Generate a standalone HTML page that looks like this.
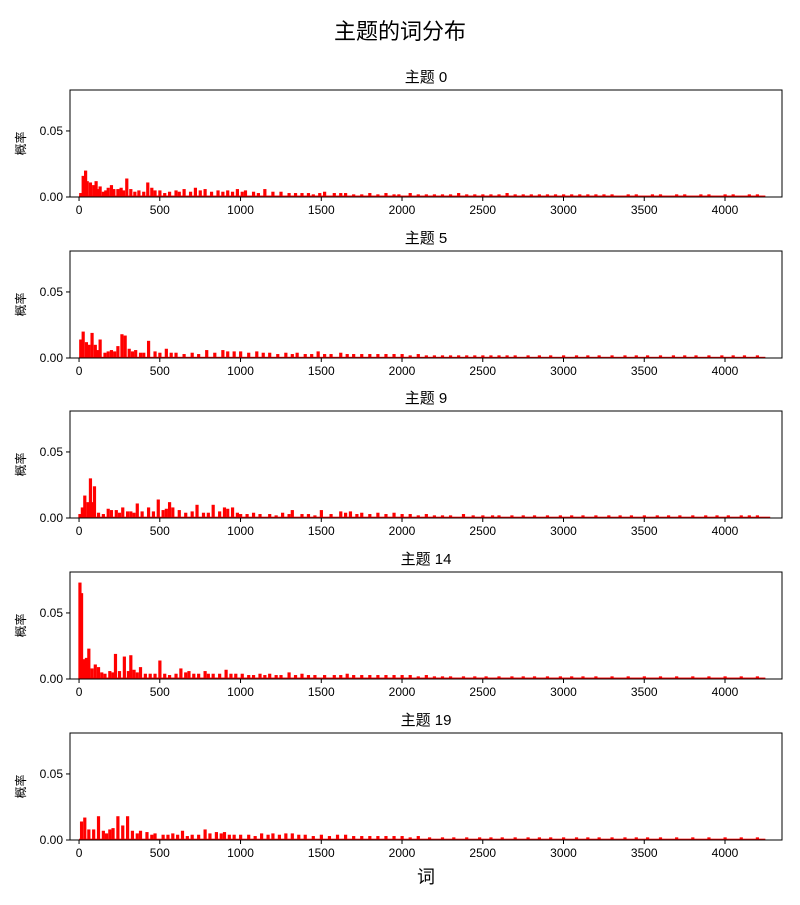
<!DOCTYPE html>
<html><head><meta charset="utf-8"><style>
body{margin:0;background:#fff;}
svg text{font-family:"Liberation Sans","Noto Sans CJK SC","WenQuanYi Zen Hei",sans-serif;}
</style></head><body>
<svg id="chart" width="800" height="900" xmlns="http://www.w3.org/2000/svg">
<text x="400" y="39" text-anchor="middle" font-size="22">主题的词分布</text>
<text x="426" y="883" text-anchor="middle" font-size="18">词</text>
</svg>
<script>
const topicNames = ["主题 0","主题 5","主题 9","主题 14","主题 19"];
const xTicks = [0,500,1000,1500,2000,2500,3000,3500,4000];
const yTicks = [0,0.05];
const yTickLabels = ["0.00","0.05"];
const floorLevels = [0.0011,0.0009,0.001,0.0011,0.001];
const tailEnd = [4250,4250,4280,4250,4250];
const spikes0 = [[10,0.003],[25,0.016],[40,0.02],[50,0.012],[70,0.011],[90,0.009],[105,0.012],[120,0.006],[130,0.008],[150,0.004],[165,0.005],[180,0.007],[200,0.009],[215,0.006],[240,0.006],[260,0.007],[275,0.005],[295,0.014],[320,0.006],[345,0.004],[370,0.005],[400,0.004],[425,0.011],[450,0.007],[470,0.005],[500,0.005],[530,0.003],[560,0.004],[600,0.005],[620,0.004],[650,0.006],[690,0.004],[720,0.007],[750,0.005],[780,0.006],[820,0.004],[860,0.005],[890,0.004],[920,0.005],[950,0.004],[980,0.006],[1010,0.004],[1030,0.005],[1080,0.004],[1110,0.003],[1150,0.006],[1200,0.004],[1250,0.004],[1300,0.003],[1340,0.003],[1380,0.003],[1420,0.003],[1450,0.002],[1490,0.003],[1520,0.004],[1580,0.003],[1620,0.003],[1650,0.003],[1700,0.002],[1750,0.002],[1800,0.003],[1850,0.002],[1900,0.003],[1950,0.002],[1980,0.002],[2050,0.003],[2100,0.002],[2150,0.002],[2200,0.002],[2250,0.002],[2300,0.002],[2350,0.003],[2400,0.002],[2450,0.002],[2500,0.002],[2550,0.002],[2600,0.002],[2650,0.003],[2700,0.002],[2750,0.002],[2800,0.002],[2850,0.002],[2900,0.002],[2950,0.002],[3000,0.002],[3050,0.002],[3100,0.002],[3150,0.002],[3200,0.002],[3250,0.002],[3300,0.002],[3400,0.002],[3450,0.002],[3550,0.002],[3600,0.002],[3700,0.002],[3750,0.002],[3850,0.002],[3900,0.002],[4000,0.002],[4050,0.002],[4150,0.002],[4200,0.002]];
const spikes5 = [[10,0.014],[25,0.02],[45,0.012],[60,0.01],[80,0.019],[100,0.01],[115,0.006],[130,0.014],[160,0.004],[180,0.005],[200,0.006],[220,0.005],[240,0.009],[265,0.018],[285,0.017],[310,0.007],[330,0.005],[350,0.006],[380,0.004],[400,0.004],[430,0.013],[470,0.005],[500,0.004],[540,0.007],[570,0.004],[600,0.004],[650,0.003],[700,0.004],[740,0.003],[790,0.006],[840,0.004],[890,0.006],[920,0.005],[960,0.005],[1000,0.005],[1050,0.004],[1100,0.005],[1140,0.004],[1180,0.004],[1230,0.003],[1280,0.004],[1320,0.003],[1350,0.004],[1400,0.003],[1440,0.003],[1480,0.005],[1520,0.003],[1560,0.003],[1620,0.004],[1660,0.003],[1700,0.003],[1750,0.003],[1800,0.003],[1850,0.003],[1900,0.003],[1950,0.003],[2000,0.003],[2050,0.002],[2100,0.003],[2150,0.002],[2200,0.002],[2250,0.002],[2300,0.002],[2350,0.002],[2400,0.002],[2450,0.002],[2500,0.002],[2550,0.002],[2600,0.002],[2650,0.002],[2700,0.002],[2780,0.002],[2850,0.002],[2920,0.002],[3000,0.002],[3080,0.002],[3150,0.002],[3220,0.002],[3300,0.002],[3380,0.002],[3450,0.002],[3520,0.002],[3600,0.002],[3680,0.002],[3750,0.002],[3820,0.002],[3900,0.002],[3980,0.002],[4050,0.002],[4120,0.002],[4200,0.002]];
const spikes9 = [[5,0.003],[20,0.008],[35,0.017],[55,0.012],[70,0.03],[80,0.012],[95,0.024],[120,0.004],[150,0.003],[180,0.007],[200,0.006],[230,0.006],[250,0.004],[270,0.008],[300,0.005],[320,0.005],[340,0.004],[360,0.011],[390,0.005],[430,0.008],[460,0.005],[490,0.014],[520,0.006],[540,0.007],[560,0.012],[580,0.008],[620,0.006],[660,0.004],[700,0.005],[730,0.01],[770,0.004],[800,0.004],[830,0.01],[870,0.005],[900,0.008],[920,0.007],[950,0.008],[980,0.004],[1000,0.003],[1040,0.003],[1080,0.004],[1120,0.003],[1180,0.003],[1220,0.002],[1260,0.004],[1300,0.003],[1320,0.006],[1380,0.003],[1420,0.003],[1460,0.002],[1500,0.006],[1560,0.003],[1620,0.005],[1650,0.004],[1680,0.005],[1720,0.003],[1750,0.004],[1800,0.003],[1850,0.004],[1900,0.003],[1950,0.004],[2000,0.003],[2050,0.003],[2100,0.002],[2150,0.003],[2200,0.002],[2250,0.002],[2300,0.002],[2380,0.003],[2440,0.002],[2500,0.002],[2560,0.002],[2600,0.002],[2680,0.002],[2750,0.002],[2820,0.002],[2900,0.002],[2980,0.002],[3050,0.002],[3120,0.002],[3200,0.002],[3280,0.002],[3350,0.002],[3420,0.002],[3500,0.002],[3580,0.002],[3650,0.002],[3720,0.002],[3800,0.002],[3880,0.002],[3950,0.002],[4020,0.002],[4100,0.002],[4150,0.002],[4200,0.002]];
const spikes14 = [[5,0.073],[15,0.065],[30,0.015],[45,0.016],[60,0.023],[80,0.008],[100,0.011],[120,0.009],[140,0.005],[160,0.004],[190,0.006],[210,0.005],[225,0.019],[250,0.006],[280,0.017],[305,0.006],[320,0.018],[340,0.007],[360,0.005],[380,0.009],[410,0.004],[440,0.004],[470,0.004],[500,0.014],[530,0.004],[560,0.003],[600,0.004],[630,0.008],[660,0.005],[680,0.006],[710,0.004],[740,0.004],[780,0.006],[800,0.004],[830,0.004],[870,0.004],[910,0.007],[940,0.004],[970,0.004],[1010,0.004],[1050,0.003],[1080,0.003],[1120,0.004],[1150,0.003],[1180,0.004],[1220,0.003],[1250,0.003],[1300,0.005],[1340,0.003],[1380,0.004],[1420,0.003],[1460,0.003],[1520,0.003],[1580,0.003],[1620,0.003],[1660,0.004],[1700,0.003],[1750,0.003],[1800,0.003],[1850,0.003],[1900,0.003],[1950,0.003],[2000,0.003],[2050,0.003],[2100,0.002],[2150,0.003],[2200,0.002],[2250,0.002],[2300,0.002],[2380,0.002],[2450,0.002],[2520,0.002],[2600,0.002],[2680,0.002],[2750,0.002],[2820,0.002],[2900,0.002],[2980,0.002],[3050,0.002],[3120,0.002],[3200,0.002],[3300,0.002],[3400,0.002],[3500,0.002],[3600,0.002],[3700,0.002],[3800,0.002],[3900,0.002],[4000,0.002],[4100,0.002],[4200,0.002]];
const spikes19 = [[15,0.014],[35,0.017],[60,0.008],[90,0.008],[120,0.018],[150,0.007],[170,0.005],[190,0.008],[210,0.009],[240,0.018],[270,0.011],[300,0.018],[330,0.007],[360,0.005],[380,0.007],[420,0.006],[450,0.004],[470,0.005],[520,0.004],[550,0.004],[580,0.005],[610,0.004],[640,0.007],[670,0.003],[700,0.004],[740,0.004],[780,0.008],[810,0.005],[850,0.006],[880,0.005],[900,0.006],[930,0.004],[960,0.004],[1000,0.004],[1050,0.004],[1090,0.003],[1130,0.005],[1170,0.004],[1200,0.005],[1240,0.004],[1280,0.005],[1320,0.005],[1360,0.004],[1400,0.004],[1450,0.003],[1500,0.004],[1550,0.003],[1600,0.004],[1650,0.004],[1700,0.003],[1750,0.003],[1800,0.003],[1850,0.003],[1900,0.003],[1950,0.003],[2000,0.003],[2050,0.002],[2100,0.003],[2170,0.002],[2250,0.002],[2320,0.002],[2400,0.002],[2480,0.002],[2550,0.002],[2620,0.002],[2700,0.002],[2780,0.002],[2850,0.002],[2920,0.002],[3000,0.002],[3080,0.002],[3150,0.002],[3220,0.002],[3300,0.002],[3380,0.002],[3450,0.002],[3520,0.002],[3600,0.002],[3700,0.002],[3800,0.002],[3900,0.002],[4000,0.002],[4100,0.002],[4200,0.002]];
const allSpikes = [spikes0,spikes5,spikes9,spikes14,spikes19];

const NS="http://www.w3.org/2000/svg";
const svg=document.getElementById('chart');
const L=70,R=782,H=107,tops=[90,251,411,572,733];
const xMin=-56,xMax=4353,yMax=0.081;
function mk(t,a){const e=document.createElementNS(NS,t);for(const k in a)e.setAttribute(k,a[k]);return e;}
function xs(v){return L+(v-xMin)/(xMax-xMin)*(R-L);}
allSpikes.forEach((sp,p)=>{
  const top=tops[p],bot=top+H;
  const ys=v=>bot-v/yMax*H;
  const g=mk('g',{});
  
  
  svg.appendChild(g);
  const t=mk('text',{x:(L+R)/2,y:top-8,'text-anchor':'middle','font-size':15});
  
  
  t.textContent=topicNames[p];g.appendChild(t);
  const fl=mk('rect',{x:xs(0),y:ys(floorLevels[p]),width:xs(tailEnd[p])-xs(0),height:bot-ys(floorLevels[p]),fill:'red'});
  
  
  g.appendChild(fl);
  sp.forEach(([w,v])=>{
    const r=mk('rect',{x:xs(w)-1.5,y:ys(v),width:3.2,height:bot-ys(v),fill:'red'});
    
    
    g.appendChild(r);
  });
  const fr=mk('rect',{x:L,y:top,width:R-L,height:H,fill:'none',stroke:'#000','stroke-width':1});
  
  
  g.appendChild(fr);
  xTicks.forEach(v=>{
    const x=xs(v);
    const l=mk('line',{x1:x,x2:x,y1:bot,y2:bot+4,stroke:'#000'});
    
    
    g.appendChild(l);
    const tx=mk('text',{x:x,y:bot+17,'text-anchor':'middle','font-size':12});
    
    
    tx.textContent=v;g.appendChild(tx);
  });
  yTicks.forEach((v,i)=>{
    const y=ys(v);
    const l=mk('line',{x1:L-4,x2:L,y1:y,y2:y,stroke:'#000'});
    
    
    g.appendChild(l);
    const tx=mk('text',{x:L-7,y:y+4,'text-anchor':'end','font-size':12});
    
    
    tx.textContent=yTickLabels[i];g.appendChild(tx);
  });
  const yl=mk('text',{x:0,y:0,'text-anchor':'middle','font-size':12,transform:`translate(25,${top+H/2}) rotate(-90)`});
  
  
  yl.textContent='概率';g.appendChild(yl);
});
</script>
</body></html>
